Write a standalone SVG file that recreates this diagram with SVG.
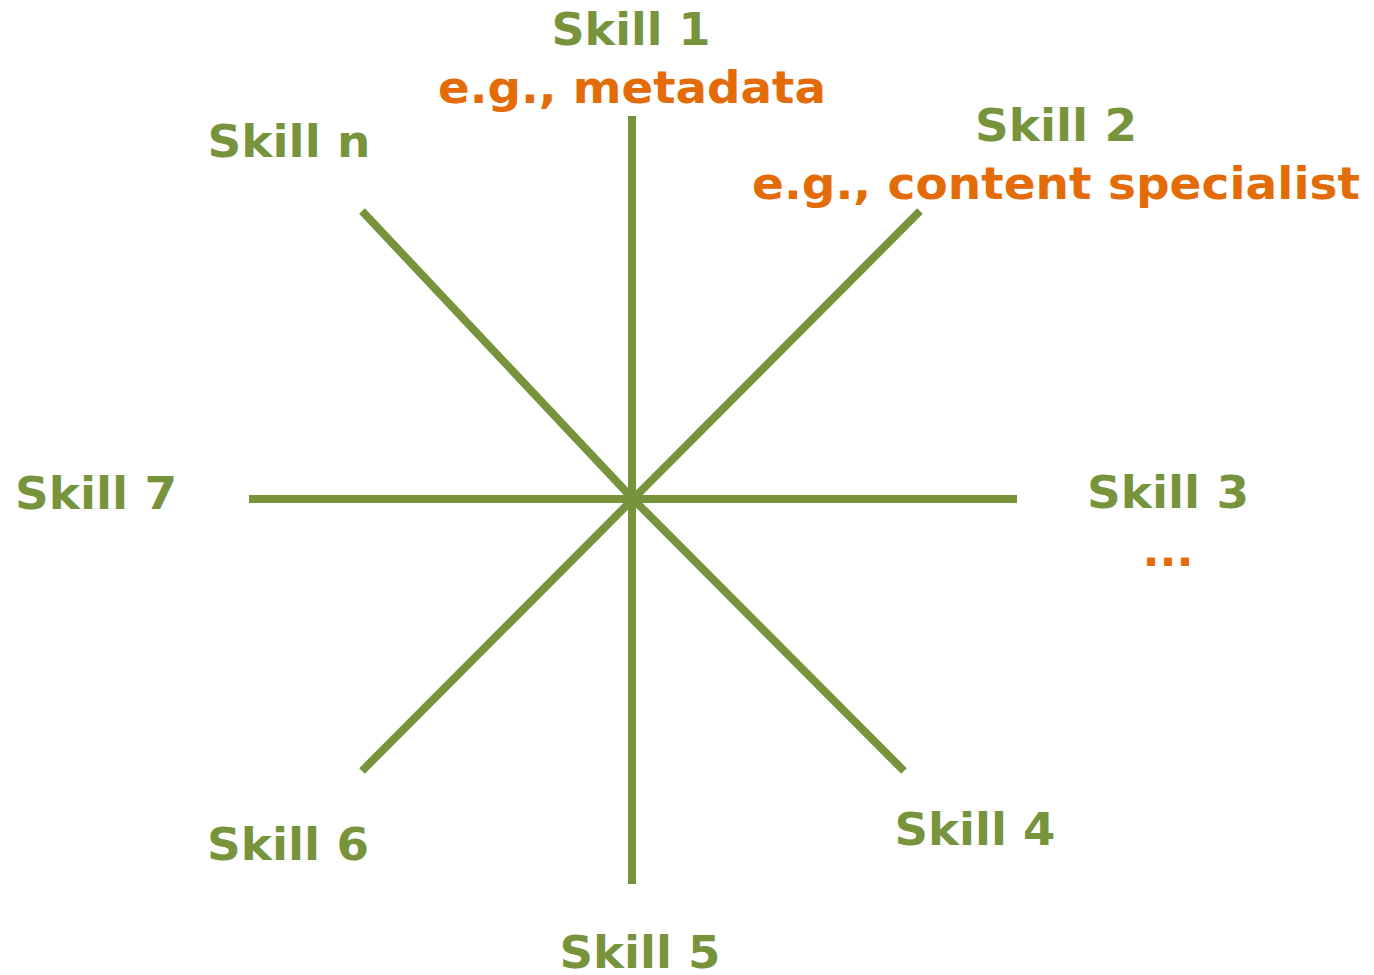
<svg xmlns="http://www.w3.org/2000/svg" width="1374" height="975" viewBox="0 0 1374 975">
<style>
.t{font-family:"DejaVu Sans","Liberation Sans",sans-serif;font-weight:bold;font-size:45px;text-anchor:middle}
.g{fill:#77933C}
.o{fill:#E36C09}
.ln{stroke:#77933C;stroke-width:8;fill:none}
</style>
<rect width="1374" height="975" fill="#ffffff"/>
<g id="connectors">
<line class="ln" x1="632" y1="116" x2="632" y2="884"/>
<line class="ln" x1="249" y1="499" x2="1017" y2="499"/>
<line class="ln" x1="362" y1="211" x2="633" y2="499"/>
<line class="ln" x1="920" y1="211" x2="633" y2="499"/>
<line class="ln" x1="362" y1="771" x2="633" y2="499"/>
<line class="ln" x1="904" y1="771" x2="633" y2="499"/>
</g>
<g id="skill1"><text class="t g" x="631" y="45" textLength="159" lengthAdjust="spacingAndGlyphs">Skill 1</text><text class="t o" x="632" y="103" textLength="388" lengthAdjust="spacingAndGlyphs">e.g., metadata</text></g>
<g id="skill2"><text class="t g" x="1056" y="141" textLength="162" lengthAdjust="spacingAndGlyphs">Skill 2</text><text class="t o" x="1056" y="199" textLength="608" lengthAdjust="spacingAndGlyphs">e.g., content specialist</text></g>
<g id="skill3"><text class="t g" x="1168" y="508" textLength="162" lengthAdjust="spacingAndGlyphs">Skill 3</text><text class="t o" x="1151 1168 1185" y="566" font-size="36">...</text></g>
<g id="skill4"><text class="t g" x="975" y="845" textLength="161" lengthAdjust="spacingAndGlyphs">Skill 4</text></g>
<g id="skill5"><text class="t g" x="640" y="968" textLength="161" lengthAdjust="spacingAndGlyphs">Skill 5</text></g>
<g id="skill6"><text class="t g" x="288" y="860" textLength="162" lengthAdjust="spacingAndGlyphs">Skill 6</text></g>
<g id="skill7"><text class="t g" x="96" y="509" textLength="162" lengthAdjust="spacingAndGlyphs">Skill 7</text></g>
<g id="skilln"><text class="t g" x="289" y="157" textLength="163" lengthAdjust="spacingAndGlyphs">Skill n</text></g>
</svg>
